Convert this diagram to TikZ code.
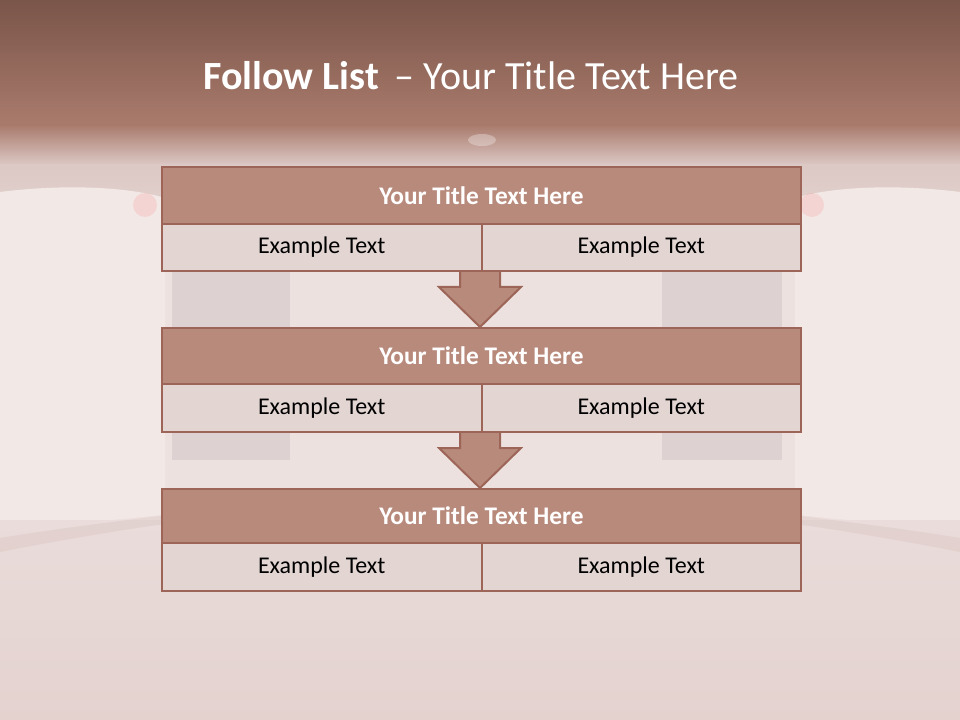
\documentclass[tikz,border=0pt]{standalone}
\usepackage{fontspec}
\setmainfont{Carlito}
\definecolor{topA}{HTML}{7A5549}
\definecolor{topB}{HTML}{A97B6D}
\definecolor{midA}{HTML}{DCC8C4}
\definecolor{wall}{HTML}{EDE1DF}
\definecolor{wallB}{HTML}{E9DCDA}
\definecolor{sidewall}{HTML}{F2E9E7}
\definecolor{pillar}{HTML}{DDD1D1}
\definecolor{floorc}{HTML}{E4D2CF}
\definecolor{titlefill}{HTML}{B88A7C}
\definecolor{edgec}{HTML}{9C6557}
\definecolor{cellfill}{HTML}{E3D5D2}
\tikzset{
  titlebox/.style={draw=edgec, line width=1.5pt, fill=titlefill, text=white, font=\fontsize{19}{22}\selectfont\bfseries},
  cellbox/.style={draw=edgec, line width=1.5pt, fill=cellfill, text=black, font=\fontsize{18}{21}\selectfont},
  downarrow/.style={draw=edgec, line width=1.5pt, fill=titlefill, line join=miter}
}
\begin{document}
\begin{tikzpicture}[x=0.75pt,y=-0.75pt]
\useasboundingbox (0,0) rectangle (960,720);
% background
\fill[wall] (0,0) rectangle (960,720);
\shade[top color=topA, bottom color=topB] (0,0) rectangle (960,125);
\shade[top color=topB, bottom color=midA] (0,125) rectangle (960,165);
\shade[top color=midA, bottom color=wallB] (0,165) rectangle (960,260);
% side curved walls
\fill[sidewall] (0,192) .. controls (80,182) and (140,190) .. (165,198) -- (165,515) .. controls (100,520) and (40,528) .. (0,538) -- cycle;
\fill[sidewall] (960,192) .. controls (880,182) and (820,190) .. (795,198) -- (795,515) .. controls (860,520) and (920,528) .. (960,538) -- cycle;
% pillars
\fill[pillar] (172,270) rectangle (290,460);
\fill[pillar] (662,270) rectangle (782,460);
% glows
\fill[red!50!white, opacity=0.2] (145,205) circle (12);
\fill[red!50!white, opacity=0.2] (812,205) circle (12);
\fill[white, opacity=0.3] (482,140) ellipse (14 and 6);
% floor
\shade[top color=wallB, bottom color=floorc] (0,520) rectangle (960,720);
\fill[edgec, opacity=0.08] (0,538) .. controls (60,528) and (130,520) .. (165,515) -- (165,524) .. controls (120,530) and (50,542) .. (0,552) -- cycle;
\fill[edgec, opacity=0.08] (960,538) .. controls (900,528) and (830,520) .. (795,515) -- (795,524) .. controls (840,530) and (910,542) .. (960,552) -- cycle;
% title
\node[text=white, font=\fontsize{30}{36}\selectfont, anchor=center] (title) at (471,76) {\textbf{Follow List} \,– Your Title Text Here};
% arrows (drawn first, boxes on top)
\draw[downarrow] (460,268) -- (500,268) -- (500,287) -- (521,287) -- (480,327) -- (439,287) -- (460,287) -- cycle;
\draw[downarrow] (460,429) -- (500,429) -- (500,448) -- (521,448) -- (480,488) -- (439,448) -- (460,448) -- cycle;
% box 1
\node[titlebox, minimum width=639*0.75pt, minimum height=57*0.75pt, anchor=north west, inner sep=0pt] (t1) at (161,166) {Your Title Text Here};
\node[cellbox, minimum width=319.5*0.75pt, minimum height=47*0.75pt, anchor=north west, inner sep=0pt] (a1) at (161,223) {Example Text};
\node[cellbox, minimum width=319.5*0.75pt, minimum height=47*0.75pt, anchor=north west, inner sep=0pt] (b1) at (480.5,223) {Example Text};
% box 2
\node[titlebox, minimum width=639*0.75pt, minimum height=56*0.75pt, anchor=north west, inner sep=0pt] (t2) at (161,327) {Your Title Text Here};
\node[cellbox, minimum width=319.5*0.75pt, minimum height=48*0.75pt, anchor=north west, inner sep=0pt] (a2) at (161,383) {Example Text};
\node[cellbox, minimum width=319.5*0.75pt, minimum height=48*0.75pt, anchor=north west, inner sep=0pt] (b2) at (480.5,383) {Example Text};
% box 3
\node[titlebox, minimum width=639*0.75pt, minimum height=54*0.75pt, anchor=north west, inner sep=0pt] (t3) at (161,488) {Your Title Text Here};
\node[cellbox, minimum width=319.5*0.75pt, minimum height=48*0.75pt, anchor=north west, inner sep=0pt] (a3) at (161,542) {Example Text};
\node[cellbox, minimum width=319.5*0.75pt, minimum height=48*0.75pt, anchor=north west, inner sep=0pt] (b3) at (480.5,542) {Example Text};
\end{tikzpicture}
\end{document}
